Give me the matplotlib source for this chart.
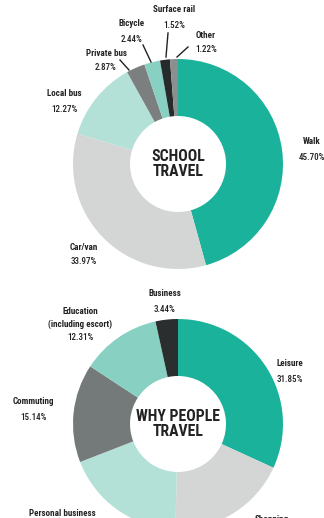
import matplotlib
matplotlib.use("Agg")
import matplotlib.pyplot as plt

# ── Data ──────────────────────────────────────────────────────────────────────
school_labels = ["Walk", "Car/van", "Local bus", "Private bus", "Bicycle",
                 "Surface rail", "Other"]
school_values = [45.70, 33.97, 12.27, 2.87, 2.44, 1.52, 1.22]

why_labels = ["Leisure", "Shopping", "Personal business", "Commuting",
              "Education\n(including escort)", "Business"]
why_values = [31.85, 18.55, 18.71, 15.14, 12.31, 3.44]

TEAL = "#1ab29b"
LIGHT_GREY = "#d3d6d4"
PALE_TEAL = "#b4e1d7"
MID_TEAL = "#88d0c1"
GREY = "#7b7f7f"
DARK = "#262a2a"

school_colors = [TEAL, LIGHT_GREY, PALE_TEAL, GREY, MID_TEAL, DARK, "#8c8f8f"]
why_colors = [TEAL, LIGHT_GREY, PALE_TEAL, "#747979", MID_TEAL, "#2b2e2e"]

W, H = 324, 518
plt.rcParams["font.family"] = ["Roboto Condensed", "DejaVu Sans"]

fig = plt.figure(figsize=(W / 100, H / 100), dpi=100)
ax = fig.add_axes([0, 0, 1, 1])


def y(py):
    # pixel row from the top -> data y
    return H - py


def donut(values, colors, cx, cy, title):
    ax.pie(values, colors=colors, startangle=90, counterclock=False,
           center=(cx, y(cy)), radius=105,
           wedgeprops=dict(width=57, linewidth=0))
    ax.text(cx, y(cy), title, ha="center", va="center", fontsize=11.3,
            fontweight="semibold", color="#222222", linespacing=0.95)


def label(name, value, px, py, gap=15):
    ax.text(px, y(py), name, ha="center", va="center", fontsize=6.5,
            fontweight="bold", color="#222222", linespacing=1.6)
    if value is not None:
        ax.text(px, y(py + gap), f"{value:.2f}%", ha="center", va="center",
                fontsize=6.5, fontweight="medium", color="#222222")


# ── School travel ────────────────────────────────────────────────────────────
donut(school_values, school_colors, 178, 164, "SCHOOL\nTRAVEL")

school_pos = {
    "Walk": (312, 142), "Car/van": (84, 247), "Local bus": (64, 94),
    "Private bus": (106, 53), "Bicycle": (132, 24),
    "Surface rail": (174, 10), "Other": (206, 35),
}
for name, val in zip(school_labels, school_values):
    px, py = school_pos[name]
    label(name, val, px, py)

leaders = [((120, 60), (129, 70)), ((143, 45), (151, 62)),
           ((168, 33), (166, 57)), ((188, 47), (177, 57))]
for (x0, y0), (x1, y1) in leaders:
    ax.plot([x0, x1], [y(y0), y(y1)], color="#222222", linewidth=1.0)

# ── Why people travel ────────────────────────────────────────────────────────
donut(why_values, why_colors, 178, 424, "WHY PEOPLE\nTRAVEL")

why_pos = {
    "Leisure": (290, 364), "Shopping": (272, 519),
    "Personal business": (62, 513), "Commuting": (33, 402),
    "Education\n(including escort)": (80, 318), "Business": (165, 294),
}
for name, val in zip(why_labels, why_values):
    px, py = why_pos[name]
    if name.startswith("Education"):
        label(name, val, px, py, gap=20)
    elif name in ("Shopping", "Personal business"):
        label(name, None, px, py)
    else:
        label(name, val, px, py)

# pie() resets the limits, so fix the pixel frame afterwards
ax.set_xlim(0, W)
ax.set_ylim(0, H)
ax.set_aspect("equal")
ax.axis("off")

fig.savefig("out.png", dpi=100, facecolor="white")
